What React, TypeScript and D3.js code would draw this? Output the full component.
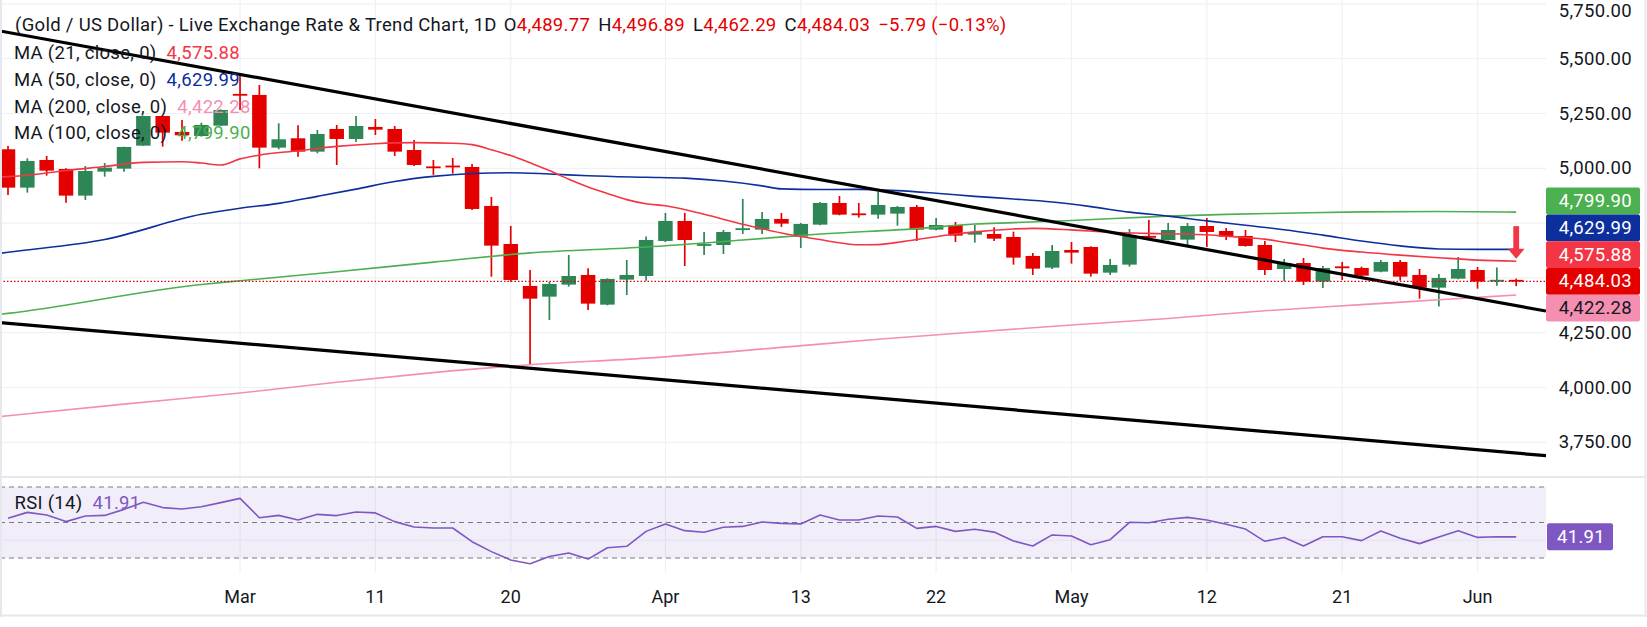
import React from "react";
import * as d3 from "d3";

// Trading days shown on the chart (XAU/USD daily)
const dates = [
  "2026-02-12", "2026-02-13", "2026-02-16", "2026-02-17", "2026-02-18", "2026-02-19", "2026-02-20",
  "2026-02-23", "2026-02-24", "2026-02-25", "2026-02-26", "2026-02-27",
  "2026-03-02", "2026-03-03", "2026-03-04", "2026-03-05", "2026-03-06",
  "2026-03-09", "2026-03-10", "2026-03-11", "2026-03-12", "2026-03-13",
  "2026-03-16", "2026-03-17", "2026-03-18", "2026-03-19", "2026-03-20",
  "2026-03-23", "2026-03-24", "2026-03-25", "2026-03-26", "2026-03-27",
  "2026-03-30", "2026-03-31", "2026-04-01", "2026-04-02",
  "2026-04-06", "2026-04-07", "2026-04-08", "2026-04-09", "2026-04-10",
  "2026-04-13", "2026-04-14", "2026-04-15", "2026-04-16", "2026-04-17",
  "2026-04-20", "2026-04-21", "2026-04-22", "2026-04-23", "2026-04-24",
  "2026-04-27", "2026-04-28", "2026-04-29", "2026-04-30", "2026-05-01",
  "2026-05-04", "2026-05-05", "2026-05-06", "2026-05-07", "2026-05-08",
  "2026-05-11", "2026-05-12", "2026-05-13", "2026-05-14", "2026-05-15",
  "2026-05-18", "2026-05-19", "2026-05-20", "2026-05-21", "2026-05-22",
  "2026-05-25", "2026-05-26", "2026-05-27", "2026-05-28", "2026-05-29",
  "2026-06-01", "2026-06-02", "2026-06-03",
];

const open = [
  5086.7, 4911.8, 5038.0, 4997.0, 4875.3, 4984.8, 4998.5, 5103.4, 5238.7, 5165.8,
  5147.5, 5194.6, 5337.6, 5334.6, 5094.3, 5136.9, 5076.0, 5179.4, 5133.8, 5188.6,
  5179.4, 5083.6, 5006.0, 5010.6, 5006.0, 4828.2, 4654.8, 4463.2, 4414.5, 4469.3,
  4513.4, 4378.0, 4492.1, 4508.8, 4668.5, 4759.7, 4647.2, 4650.2, 4720.2, 4720.2,
  4768.9, 4688.3, 4743.0, 4841.8, 4791.7, 4788.6, 4793.2, 4823.6, 4720.2, 4741.5,
  4697.4, 4700.4, 4686.7, 4600.1, 4546.8, 4627.4, 4641.1, 4524.0, 4560.5, 4691.3,
  4673.0, 4674.6, 4736.9, 4714.1, 4691.3, 4650.2, 4540.7, 4568.0, 4482.9, 4549.9,
  4545.3, 4528.6, 4572.7, 4513.4, 4455.6, 4496.6, 4536.2, 4484.5, 4489.77,
];
const high = [
  5101.9, 5045.6, 5056.3, 5000.0, 5010.6, 5024.3, 5098.8, 5240.0, 5240.0, 5220.5,
  5208.3, 5269.0, 5421.0, 5380.0, 5205.3, 5196.2, 5174.9, 5197.7, 5238.7, 5225.0,
  5193.1, 5129.3, 5038.0, 5047.1, 5019.8, 4869.2, 4736.9, 4536.2, 4482.9, 4604.6,
  4543.8, 4498.0, 4581.8, 4688.3, 4796.2, 4796.2, 4709.5, 4718.7, 4860.1, 4800.8,
  4796.2, 4750.6, 4846.4, 4873.8, 4841.8, 4892.0, 4828.2, 4832.7, 4773.4, 4755.2,
  4741.5, 4730.8, 4711.0, 4613.7, 4650.2, 4663.9, 4644.2, 4586.4, 4723.2, 4764.3,
  4750.6, 4750.6, 4773.4, 4727.8, 4718.7, 4668.5, 4586.4, 4590.9, 4554.4, 4572.7,
  4551.4, 4581.8, 4581.8, 4540.7, 4518.0, 4595.5, 4549.9, 4547.3, 4496.89,
];
const low = [
  4878.3, 4889.0, 4966.5, 4843.4, 4855.5, 4962.0, 4984.8, 5102.0, 5098.8, 5126.2,
  5144.5, 5193.0, 5266.0, 5000.0, 5086.7, 5053.2, 5068.4, 5015.2, 5120.0, 5152.0,
  5056.3, 5010.6, 4969.6, 4975.7, 4810.0, 4505.8, 4482.9, 4102.8, 4308.1, 4460.2,
  4353.7, 4375.0, 4422.1, 4487.5, 4663.9, 4554.4, 4604.6, 4609.2, 4700.4, 4700.4,
  4732.4, 4636.5, 4740.0, 4785.6, 4775.0, 4770.4, 4738.4, 4668.5, 4717.0, 4663.9,
  4660.9, 4668.5, 4560.5, 4513.4, 4540.7, 4565.1, 4505.8, 4513.4, 4551.4, 4680.7,
  4670.0, 4650.2, 4641.1, 4673.0, 4642.6, 4513.4, 4486.0, 4467.7, 4454.0, 4490.6,
  4496.6, 4525.5, 4487.5, 4405.4, 4369.0, 4493.6, 4451.0, 4464.7, 4462.29,
];
const close = [
  4911.8, 5033.5, 4989.4, 4875.3, 4987.8, 5003.0, 5097.3, 5238.7, 5162.7, 5150.6,
  5197.7, 5266.1, 5333.0, 5094.3, 5132.3, 5076.0, 5156.6, 5133.8, 5193.1, 5176.4,
  5076.0, 5015.2, 5003.0, 5006.0, 4814.5, 4647.2, 4490.6, 4405.4, 4472.3, 4508.8,
  4382.6, 4495.1, 4513.4, 4673.0, 4759.7, 4673.0, 4653.3, 4709.5, 4724.7, 4768.9,
  4747.6, 4746.0, 4841.8, 4788.6, 4788.6, 4832.7, 4823.6, 4720.2, 4741.5, 4692.8,
  4709.5, 4679.1, 4592.5, 4542.3, 4622.9, 4615.3, 4519.5, 4559.0, 4691.3, 4683.7,
  4718.7, 4736.9, 4709.5, 4688.3, 4645.7, 4536.2, 4568.0, 4482.9, 4545.3, 4546.8,
  4510.3, 4572.7, 4505.8, 4455.6, 4499.7, 4540.7, 4482.9, 4489.82, 4484.03,
];

// Moving averages, [bar index, value]
const ma21: [number, number][] = [
  [-1, 4958], [0, 4962], [1, 4968], [3, 4990], [5, 5008], [7, 5027], [9, 5030], [10, 5024],
  [11, 5015], [12, 5043], [13, 5060], [15, 5080], [17, 5100], [19, 5112], [21, 5117],
  [23, 5114], [24, 5108], [25, 5085], [26, 5058], [27, 5025], [28, 4990], [29, 4950],
  [30, 4915], [31, 4885], [32, 4857], [33, 4838], [34, 4829], [36, 4790], [38, 4745],
  [40, 4705], [42, 4675], [43, 4660], [44, 4651], [45, 4652], [46, 4662], [47, 4675],
  [48, 4688], [49, 4700], [50, 4710], [52, 4723], [53, 4726], [55, 4719], [57, 4708],
  [59, 4703], [61, 4700], [62, 4697], [63, 4690], [64, 4684], [65, 4677], [66, 4663],
  [67, 4650], [68, 4636], [70, 4618], [72, 4604], [74, 4592], [76, 4581], [78, 4575.88],
];
const ma50: [number, number][] = [
  [-1, 4605], [0, 4617], [5, 4675], [10, 4790], [12, 4818], [14, 4840], [16, 4872],
  [18, 4905], [20, 4940], [22, 4963], [24, 4976], [26, 4980], [28, 4974], [30, 4966],
  [33, 4959], [35, 4955], [37, 4942], [39, 4920], [40, 4906], [42, 4903], [44, 4904],
  [46, 4898], [48, 4886], [50, 4872], [52, 4860], [54, 4846], [56, 4825], [58, 4800],
  [60, 4782], [62, 4760], [64, 4740], [66, 4720], [68, 4695], [70, 4668], [72, 4646],
  [74, 4632], [76, 4630], [78, 4629.99],
];
const ma100: [number, number][] = [
  [-1, 4328], [0, 4338], [10, 4470], [12, 4487], [17, 4528], [22, 4572], [27, 4614],
  [33, 4641], [38, 4673], [42, 4700], [47, 4725], [50, 4746], [52, 4752], [55, 4762],
  [60, 4782], [63, 4790], [66, 4795], [70, 4801], [74, 4803], [78, 4799.9],
];
const ma200: [number, number][] = [
  [-1, 3862], [0, 3871], [6, 3924], [12, 3975], [17, 4024], [22, 4068], [27, 4104],
  [33, 4134], [40, 4183], [45, 4220], [50, 4253], [55, 4285], [60, 4315], [65, 4350],
  [70, 4378], [74, 4400], [78, 4422.28],
];

// RSI (14) per bar
const rsi = [
  52.4, 55.7, 54.2, 50.5, 53.7, 54.0, 57.4, 61.4, 58.4, 57.6,
  58.9, 61.2, 63.6, 52.7, 54.0, 51.4, 54.6, 53.9, 55.9, 55.4,
  50.5, 47.5, 46.9, 46.9, 39.2, 33.6, 28.9, 26.8, 30.8, 32.8,
  29.4, 35.8, 36.6, 45.0, 49.2, 45.4, 44.5, 47.3, 47.8, 50.3,
  49.5, 49.2, 54.2, 51.4, 51.4, 53.7, 53.1, 46.7, 47.8, 45.0,
  46.2, 44.6, 39.6, 36.8, 43.0, 42.4, 37.5, 40.3, 50.1, 49.9,
  51.8, 52.9, 51.4, 49.0, 46.3, 39.4, 41.6, 36.8, 42.0, 42.0,
  39.8, 45.2, 41.1, 38.1, 41.8, 45.4, 41.6, 42.0, 41.91,
];

// Drawn trend lines: [bar index, price] anchors
const upperTrend: [number, number][] = [[0, 5619.8], [78, 4373.6]];
const lowerTrend: [number, number][] = [[0, 4293.3], [78, 3700.7]];

// Down arrow note over the last bar
const arrowNote = { bar: 78, from: 4736, to: 4587 };

const tickDates = [
  "2026-03-02", "2026-03-11", "2026-03-20", "2026-04-01", "2026-04-13",
  "2026-04-22", "2026-05-01", "2026-05-12", "2026-05-21", "2026-06-01",
];
const tickLabels = ["Mar", "11", "20", "Apr", "13", "22", "May", "12", "21", "Jun"];
const priceTicks = [3750, 4000, 4250, 4500, 4750, 5000, 5250, 5500, 5750];

const UP = "#2e8555";
const DOWN = "#e50000";
const C_MA21 = "#f23645";
const C_MA50 = "#0d2f9c";
const C_MA100 = "#4caf50";
const C_MA200 = "#f48fb1";
const C_RSI = "#7e57c2";
const TEXT = "#131722";
const GRID = "#eff1f5";
const FONT = "Roboto, sans-serif";
const FS = 18.5;
const LS = 0.3;

export default function App() {
  const W = 1647;
  const H = 627;
  const plotR = 1546;
  const mainB = 477;
  const rsiB = 573;
  const step = 19.336;
  const n = dates.length;

  const x = d3.scaleLinear().domain([0, n - 1]).range([8, 8 + step * (n - 1)]);
  const y = d3.scaleLinear().domain([3750, 5750]).range([442.3, 3.9]);
  const yR = d3.scaleLinear().domain([30, 70]).range([558, 487]);
  const fmt = d3.format(",.2f");

  const maLine = d3
    .line<[number, number]>()
    .x((d) => x(d[0]))
    .y((d) => y(d[1]))
    .curve(d3.curveMonotoneX);
  const rsiLine = d3
    .line<number>()
    .x((_, i) => x(i))
    .y((d) => yR(d));

  const extend = (a: [number, number][]) => {
    const [p0, p1] = a;
    const k = (p1[1] - p0[1]) / (p1[0] - p0[0]);
    const b0 = x.invert(0);
    const b1 = x.invert(plotR);
    return [
      [x(b0), y(p0[1] + k * (b0 - p0[0]))],
      [x(b1), y(p0[1] + k * (b1 - p0[0]))],
    ];
  };

  const last = n - 1;
  const chg = close[last] - close[last - 1];
  const pct = (chg / close[last - 1]) * 100;
  const lastOf = (a: [number, number][]) => a[a.length - 1][1];

  // Price-scale badges, stacked around the live price badge
  const bh = 26.8;
  const badges = [
    { v: lastOf(ma100), bg: C_MA100, fg: "#ffffff", anchor: false },
    { v: lastOf(ma50), bg: C_MA50, fg: "#ffffff", anchor: false },
    { v: lastOf(ma21), bg: C_MA21, fg: "#ffffff", anchor: false },
    { v: close[last], bg: DOWN, fg: "#ffffff", anchor: true },
    { v: lastOf(ma200), bg: C_MA200, fg: TEXT, anchor: false },
  ].map((b) => ({ ...b, cy: y(b.v) }));
  const anchor = badges.find((b) => b.anchor)!;
  const above = badges.filter((b) => b !== anchor && b.cy <= anchor.cy).sort((a, b) => b.cy - a.cy);
  const below = badges.filter((b) => b !== anchor && b.cy > anchor.cy).sort((a, b) => a.cy - b.cy);
  let prev = anchor.cy;
  above.forEach((b) => {
    b.cy = Math.min(b.cy, prev - bh);
    prev = b.cy;
  });
  prev = anchor.cy;
  below.forEach((b) => {
    b.cy = Math.max(b.cy, prev + bh);
    prev = b.cy;
  });
  const hidden = (py: number) => badges.some((b) => Math.abs(b.cy - py) < bh / 2 + 6);

  const bodyW = step * 0.75;
  const tickIdx = tickDates.map((d) => dates.indexOf(d));

  const upper = extend(upperTrend);
  const lower = extend(lowerTrend);

  const ax = x(arrowNote.bar);
  const aTop = y(arrowNote.from);
  const aTip = y(arrowNote.to);
  const headH = 10;

  const legend = [
    { label: "MA (21, close, 0)", v: lastOf(ma21), c: C_MA21 },
    { label: "MA (50, close, 0)", v: lastOf(ma50), c: C_MA50 },
    { label: "MA (200, close, 0)", v: lastOf(ma200), c: C_MA200 },
    { label: "MA (100, close, 0)", v: lastOf(ma100), c: C_MA100 },
  ];

  return (
    <div style={{ position: "absolute", left: 0, top: 0 }}>
      <svg width={W} height={H} style={{ display: "block", background: "#ffffff" }} fontFamily={FONT}>
        <defs>
          <clipPath id="mainClip">
            <rect x={0} y={0} width={plotR} height={mainB} />
          </clipPath>
          <clipPath id="rsiClip">
            <rect x={0} y={mainB} width={plotR} height={rsiB - mainB} />
          </clipPath>
        </defs>

        {/* grid */}
        {tickIdx.map((i, k) => (
          <line key={"vg" + k} x1={x(i)} x2={x(i)} y1={0} y2={rsiB} stroke={GRID} strokeWidth={1.2} />
        ))}
        {priceTicks.map((p) => (
          <line key={"hg" + p} x1={0} x2={plotR} y1={y(p)} y2={y(p)} stroke={GRID} strokeWidth={1.2} />
        ))}

        {/* RSI pane */}
        <rect x={0} y={yR(70)} width={plotR} height={yR(30) - yR(70)} fill={C_RSI} fillOpacity={0.1} />
        <line x1={0} x2={plotR} y1={yR(40)} y2={yR(40)} stroke="#e4e0ef" strokeWidth={1.2} />
        {[70, 50, 30].map((v) => (
          <line key={"rb" + v} x1={0} x2={plotR} y1={yR(v)} y2={yR(v)} stroke="#787b86" strokeWidth={1} strokeDasharray="5 4" />
        ))}
        <g clipPath="url(#rsiClip)">
          <path d={rsiLine(rsi) || ""} fill="none" stroke={C_RSI} strokeWidth={1.6} strokeLinejoin="round" />
        </g>

        {/* candles */}
        <g clipPath="url(#mainClip)">
          {dates.map((d, i) => {
            const o = open[i];
            const c = close[i];
            const col = c >= o ? UP : DOWN;
            const top = y(Math.max(o, c));
            const bot = y(Math.min(o, c));
            const thin = bot - top < 1.8;
            return (
              <g key={d}>
                <line x1={x(i)} x2={x(i)} y1={y(high[i])} y2={y(low[i])} stroke={col} strokeWidth={1.7} />
                <rect
                  x={x(i) - bodyW / 2}
                  y={thin ? (top + bot) / 2 - 0.9 : top}
                  width={bodyW}
                  height={thin ? 1.8 : bot - top}
                  fill={col}
                />
              </g>
            );
          })}

          {/* moving averages */}
          <path d={maLine(ma200) || ""} fill="none" stroke={C_MA200} strokeWidth={1.6} />
          <path d={maLine(ma100) || ""} fill="none" stroke={C_MA100} strokeWidth={1.6} />
          <path d={maLine(ma50) || ""} fill="none" stroke={C_MA50} strokeWidth={1.6} />
          <path d={maLine(ma21) || ""} fill="none" stroke={C_MA21} strokeWidth={1.6} />

          {/* trend lines */}
          <line x1={upper[0][0]} y1={upper[0][1]} x2={upper[1][0]} y2={upper[1][1]} stroke="#000000" strokeWidth={3.2} />
          <line x1={lower[0][0]} y1={lower[0][1]} x2={lower[1][0]} y2={lower[1][1]} stroke="#000000" strokeWidth={3.2} />

          {/* live price line */}
          <line x1={0} x2={plotR} y1={y(close[last])} y2={y(close[last])} stroke={DOWN} strokeWidth={1.3} strokeDasharray="1.5 2" />

          {/* arrow note */}
          <rect x={ax - 2.9} y={aTop} width={5.8} height={aTip - headH - aTop + 1} fill={C_MA21} />
          <path d={`M${ax - 8.4},${aTip - headH} L${ax + 8.4},${aTip - headH} L${ax},${aTip} Z`} fill={C_MA21} />
        </g>

        {/* legend */}
        <g fontSize={FS} letterSpacing={LS}>
          <text x={15} y={25} dominantBaseline="central" fill={TEXT}>
            <tspan>{"(Gold / US Dollar) - Live Exchange Rate & Trend Chart, 1D"}</tspan>
            <tspan dx={7}>O</tspan>
            <tspan fill={DOWN}>{fmt(open[last])}</tspan>
            <tspan dx={8}>H</tspan>
            <tspan fill={DOWN}>{fmt(high[last])}</tspan>
            <tspan dx={8}>L</tspan>
            <tspan fill={DOWN}>{fmt(low[last])}</tspan>
            <tspan dx={8}>C</tspan>
            <tspan fill={DOWN}>{fmt(close[last])}</tspan>
            <tspan dx={8} fill={DOWN}>{`${fmt(chg)} (${d3.format(".2f")(pct)}%)`}</tspan>
          </text>
          {legend.map((l, k) => (
            <text key={l.label} x={14} y={53.3 + k * 26.7} dominantBaseline="central" fill={TEXT}>
              <tspan>{l.label}</tspan>
              <tspan dx={10} fill={l.c}>{fmt(l.v)}</tspan>
            </text>
          ))}
          <text x={14.5} y={503} dominantBaseline="central" fill={TEXT}>
            <tspan>RSI (14)</tspan>
            <tspan dx={10} fill={C_RSI}>{d3.format(".2f")(rsi[last])}</tspan>
          </text>

          {/* price axis */}
          {priceTicks
            .filter((p) => !hidden(y(p)))
            .map((p) => (
              <text key={"pt" + p} x={1632} y={Math.max(y(p), 11)} textAnchor="end" dominantBaseline="central" fill={TEXT}>
                {fmt(p)}
              </text>
            ))}
          {badges.map((b, k) => (
            <g key={"bd" + k}>
              <rect x={1546} y={b.cy - bh / 2} width={94} height={bh} rx={2} fill={b.bg} />
              <text x={1632} y={b.cy} textAnchor="end" dominantBaseline="central" fill={b.fg}>
                {fmt(b.v)}
              </text>
            </g>
          ))}
          <rect x={1547} y={yR(rsi[last]) - 13.5} width={66} height={27} rx={2} fill={C_RSI} />
          <text x={1605} y={yR(rsi[last])} textAnchor="end" dominantBaseline="central" fill="#ffffff">
            {d3.format(".2f")(rsi[last])}
          </text>
        </g>

        {/* time axis */}
        {tickIdx.map((i, k) => (
          <text key={"tl" + k} x={x(i)} y={596} textAnchor="middle" dominantBaseline="central" fontSize={18} fill={TEXT}>
            {tickLabels[k]}
          </text>
        ))}

        {/* pane separator and frame */}
        <rect x={0} y={476} width={1645} height={2} fill="#e6e8ee" />
        <rect x={0} y={0} width={2} height={617} fill="#e6e8ee" />
        <rect x={1644.5} y={0} width={2} height={617} fill="#e6e8ee" />
        <rect x={0} y={614.5} width={1646.5} height={2} fill="#e6e8ee" />
      </svg>
    </div>
  );
}
